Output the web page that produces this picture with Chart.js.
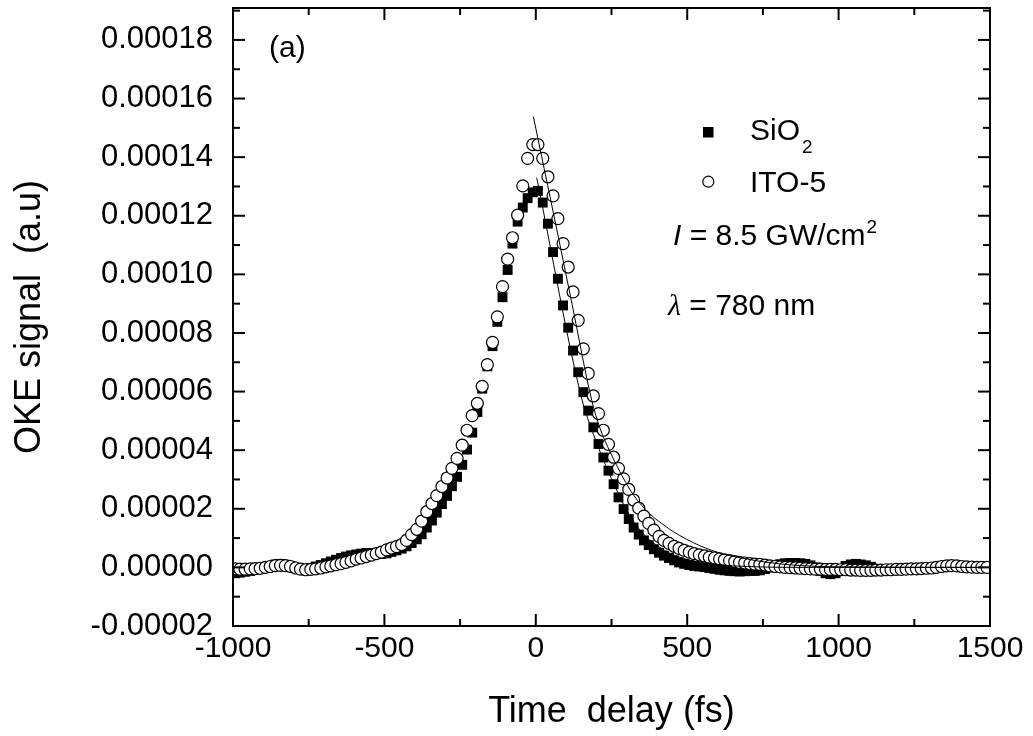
<!DOCTYPE html>
<html>
<head>
<meta charset="utf-8">
<title>OKE signal vs time delay</title>
<script src="https://cdn.jsdelivr.net/npm/chart.js@4.4.1/dist/chart.umd.min.js"></script>
<style>
  html, body { margin: 0; padding: 0; background: #fff; }
  #wrap { width: 1033px; height: 736px; }
</style>
</head>
<body>
<div id="wrap"><canvas id="okeChart" width="1033" height="736"></canvas></div>
<script>
// Time delay of every measured point (fs), shared by both samples
const delayFs = [
  -993, -977, -960, -943, -927, -910, -893, -877, -860, -843, -827, -810,
  -793, -777, -760, -743, -727, -710, -693, -677, -660, -643, -627, -610,
  -593, -577, -560, -543, -527, -510, -493, -477, -460, -443, -427, -410,
  -393, -377, -360, -343, -327, -310, -293, -277, -260, -243, -227, -210,
  -193, -177, -160, -143, -127, -110, -93, -77, -60, -43, -27, -10,
  7, 23, 40, 57, 73, 90, 107, 123, 140, 157, 173, 190,
  207, 223, 240, 257, 273, 290, 307, 323, 340, 357, 373, 390,
  407, 423, 440, 457, 473, 490, 507, 523, 540, 557, 573, 590,
  607, 623, 640, 657, 673, 690, 707, 723, 740, 757, 773, 790,
  807, 823, 840, 857, 873, 890, 907, 923, 940, 957, 973, 990,
  1007, 1023, 1040, 1057, 1073, 1090, 1107, 1123, 1140, 1157, 1173, 1190,
  1207, 1223, 1240, 1257, 1273, 1290, 1307, 1323, 1340, 1357, 1373, 1390,
  1407, 1423, 1440, 1457, 1473, 1490
];

// OKE signal, in units of 1e-5 a.u.
const sio2Signal = [
  -0.2, -0.18, -0.15, -0.12, -0.08, -0.05, 0.0, 0.05, 0.1, 0.12, 0.09, 0.04,
  -0.02, -0.05, -0.05, -0.02, 0.03, 0.08, 0.14, 0.2, 0.26, 0.32, 0.37, 0.41,
  0.44, 0.47, 0.49, 0.49, 0.47, 0.46, 0.48, 0.53, 0.58, 0.64, 0.72, 0.83,
  0.96, 1.13, 1.36, 1.6, 1.87, 2.16, 2.44, 2.77, 3.09, 3.5, 4.02, 4.6,
  5.3, 6.1, 6.86, 7.55, 8.38, 9.22, 10.15, 11.05, 11.8, 12.28, 12.6, 12.8,
  12.85, 12.45, 11.73, 10.76, 9.85, 8.94, 8.18, 7.4, 6.66, 5.98, 5.35, 4.78,
  4.21, 3.75, 3.3, 2.84, 2.39, 1.99, 1.65, 1.36, 1.12, 0.92, 0.76, 0.62,
  0.5, 0.4, 0.32, 0.24, 0.17, 0.12, 0.08, 0.05, 0.03, 0.01, -0.02, -0.05,
  -0.08, -0.1, -0.12, -0.13, -0.14, -0.13, -0.12, -0.12, -0.1, -0.06, 0.0, 0.06,
  0.11, 0.14, 0.15, 0.15, 0.14, 0.12, 0.07, 0.0, -0.12, -0.2, -0.23, -0.2,
  -0.08, 0.05, 0.1, 0.12, 0.1, 0.07, 0.02, -0.05, -0.08, -0.08, -0.07, -0.07,
  -0.06, -0.05, -0.05, -0.04, -0.03, -0.02, -0.01, 0.0, 0.02, 0.04, 0.05, 0.04,
  0.03, 0.02, 0.01, 0.0, 0.0, 0.0
];

const ito5Signal = [
  -0.05, -0.06, -0.06, -0.05, -0.04, -0.03, 0.0, 0.03, 0.06, 0.07, 0.06, 0.03,
  -0.02, -0.06, -0.08, -0.07, -0.05, -0.02, 0.02, 0.05, 0.09, 0.13, 0.17, 0.22,
  0.28, 0.32, 0.37, 0.42, 0.47, 0.52, 0.6, 0.66, 0.71, 0.78, 0.92, 1.12,
  1.3, 1.58, 1.9, 2.18, 2.45, 2.76, 3.05, 3.38, 3.72, 4.17, 4.68, 5.18,
  5.6, 6.18, 6.92, 7.68, 8.55, 9.58, 10.52, 11.25, 12.02, 13.02, 13.96, 14.43,
  14.43, 13.96, 13.33, 12.68, 11.9, 11.05, 10.25, 9.4, 8.43, 7.46, 6.62, 5.85,
  5.25, 4.68, 4.2, 3.76, 3.38, 3.02, 2.66, 2.3, 2.02, 1.75, 1.5, 1.27,
  1.06, 0.92, 0.82, 0.72, 0.65, 0.58, 0.52, 0.47, 0.43, 0.39, 0.35, 0.32,
  0.29, 0.26, 0.23, 0.2, 0.17, 0.15, 0.13, 0.11, 0.1, 0.08, 0.05, 0.03,
  0.02, 0.0, -0.01, -0.02, -0.03, -0.04, -0.05, -0.06, -0.06, -0.07, -0.07, -0.07,
  -0.08, -0.08, -0.09, -0.09, -0.1, -0.1, -0.1, -0.09, -0.09, -0.08, -0.08, -0.07,
  -0.07, -0.06, -0.05, -0.05, -0.04, -0.03, -0.02, 0.0, 0.03, 0.05, 0.06, 0.05,
  0.03, 0.02, 0.01, 0.0, 0.0, 0.0
];

// Fitted curves (thin lines)
const itoFitT = [-8, 63, 120, 185, 212, 245, 289, 322, 377, 432, 454, 542, 619, 700, 760, 850, 1000, 1500];
const itoFitV = [15.38, 11.85, 8.97, 5.69, 4.75, 3.95, 3.05, 2.48, 1.82, 1.38, 1.22, 0.74, 0.46, 0.28, 0.18, 0.08, 0.02, 0];
const sio2FitT = [3, 152, 190, 220, 260, 300, 350, 400, 450, 500, 600, 700, 900, 1500];
const sio2FitV = [13.3, 5.75, 4.55, 3.75, 2.8, 1.95, 1.2, 0.75, 0.45, 0.27, 0.1, 0.03, 0, 0];

// Axis ticks
const xTickValues = [-1000, -500, 0, 500, 1000, 1500];
const yTickValues = [-2, 0, 2, 4, 6, 8, 10, 12, 14, 16, 18];

const SIGNAL_UNIT = 1e-5;
const FONT = "'Liberation Sans', Arial, sans-serif";

function toPoints(xs, ys) {
  return xs.map((x, i) => ({ x: x, y: ys[i] }));
}

// Рамка, внутренние засечки и надписи внутри графика
const frameAndLabels = {
  id: 'frameAndLabels',
  afterDraw(chart) {
    const { ctx, chartArea: a, scales: { x, y } } = chart;
    ctx.save();
    ctx.strokeStyle = '#000';
    ctx.fillStyle = '#000';
    ctx.lineWidth = 2;
    ctx.strokeRect(a.left, a.top, a.right - a.left, a.bottom - a.top);

    const seg = (x1, y1, x2, y2) => {
      ctx.beginPath(); ctx.moveTo(x1, y1); ctx.lineTo(x2, y2); ctx.stroke();
    };
    for (let t = -1000; t <= 1500; t += 250) {
      const px = x.getPixelForValue(t);
      const len = t % 500 === 0 ? 12 : 7;
      seg(px, a.bottom, px, a.bottom - len);
      seg(px, a.top, px, a.top + len);
    }
    for (let v = -2; v <= 19; v += 1) {
      const py = y.getPixelForValue(v);
      const len = v % 2 === 0 ? 12 : 7;
      seg(a.left, py, a.left + len, py);
      seg(a.right, py, a.right - len, py);
    }

    ctx.textBaseline = 'alphabetic';
    ctx.textAlign = 'left';
    ctx.font = '30px ' + FONT;
    ctx.fillText('(a)', 269, 57);

    // legend
    ctx.fillRect(703, 127, 10.5, 10.5);
    ctx.fillText('SiO', 750, 140);
    let w = ctx.measureText('SiO').width;
    ctx.font = '19px ' + FONT;
    ctx.fillText('2', 750 + w + 2, 153);

    ctx.beginPath();
    ctx.arc(708.3, 181.7, 5.5, 0, Math.PI * 2);
    ctx.fillStyle = '#fff';
    ctx.fill();
    ctx.lineWidth = 1.2;
    ctx.stroke();
    ctx.fillStyle = '#000';
    ctx.font = '30px ' + FONT;
    ctx.fillText('ITO-5', 750, 192);

    ctx.font = 'italic 30px ' + FONT;
    ctx.fillText('I', 673, 245);
    w = ctx.measureText('I').width;
    ctx.font = '30px ' + FONT;
    ctx.fillText(' = 8.5 GW/cm', 673 + w, 245);
    const w2 = ctx.measureText(' = 8.5 GW/cm').width;
    ctx.font = '19px ' + FONT;
    ctx.fillText('2', 673 + w + w2 + 1, 233);

    ctx.font = "italic 30px 'Liberation Serif', serif";
    ctx.fillText('\u03bb', 668, 315);
    w = ctx.measureText('\u03bb').width;
    ctx.font = '30px ' + FONT;
    ctx.fillText(' = 780 nm', 668 + w, 315);
    ctx.restore();
  }
};

Chart.defaults.font.family = FONT;
Chart.defaults.color = '#000';

new Chart(document.getElementById('okeChart'), {
  type: 'scatter',
  data: {
    datasets: [
      {
        label: 'ITO-5 fit',
        data: toPoints(itoFitT, itoFitV),
        showLine: true,
        borderColor: '#000',
        borderWidth: 1,
        pointRadius: 0,
        cubicInterpolationMode: 'monotone'
      },
      {
        label: 'SiO2 fit',
        data: toPoints(sio2FitT, sio2FitV),
        showLine: true,
        borderColor: '#000',
        borderWidth: 1,
        pointRadius: 0,
        cubicInterpolationMode: 'monotone'
      },
      {
        label: 'ITO-5',
        data: toPoints(delayFs, ito5Signal),
        pointStyle: 'circle',
        pointRadius: 6,
        pointBorderWidth: 1.2,
        pointBackgroundColor: '#fff',
        pointBorderColor: '#000'
      },
      {
        label: 'SiO2',
        data: toPoints(delayFs, sio2Signal),
        pointStyle: 'rect',
        pointRadius: 7,
        pointBorderWidth: 0,
        pointBackgroundColor: '#000',
        pointBorderColor: '#000'
      }
    ]
  },
  options: {
    responsive: false,
    animation: false,
    events: [],
    layout: { padding: { top: 8, right: 43, left: 0, bottom: 0 } },
    plugins: { legend: { display: false }, tooltip: { enabled: false } },
    scales: {
      x: {
        type: 'linear',
        min: -1000,
        max: 1500,
        grid: { display: false, drawTicks: false },
        border: { display: false },
        ticks: { maxRotation: 0, autoSkip: false, padding: 5, font: { size: 30 }, callback: v => String(v) },
        afterBuildTicks: s => { s.ticks = xTickValues.map(v => ({ value: v })); },
        title: { display: true, text: 'Time  delay (fs)', font: { size: 36 }, padding: { top: 0, bottom: 2 } },
        afterFit: s => { s.height = 110; s.paddingLeft = 0; s.paddingRight = 0; }
      },
      y: {
        type: 'linear',
        min: -2,
        max: 19.09,
        grid: { display: false, drawTicks: false },
        border: { display: false },
        ticks: {
          padding: 20,
          font: { size: 31 },
          callback: v => (v * SIGNAL_UNIT).toFixed(5)
        },
        afterBuildTicks: s => { s.ticks = yTickValues.map(v => ({ value: v })); },
        title: { display: true, text: 'OKE signal  (a.u)', font: { size: 36 }, padding: { top: 8, bottom: 0 } },
        afterFit: s => { s.width = 233; s.paddingTop = 0; s.paddingBottom = 0; }
      }
    }
  },
  plugins: [frameAndLabels]
});
</script>
</body>
</html>
